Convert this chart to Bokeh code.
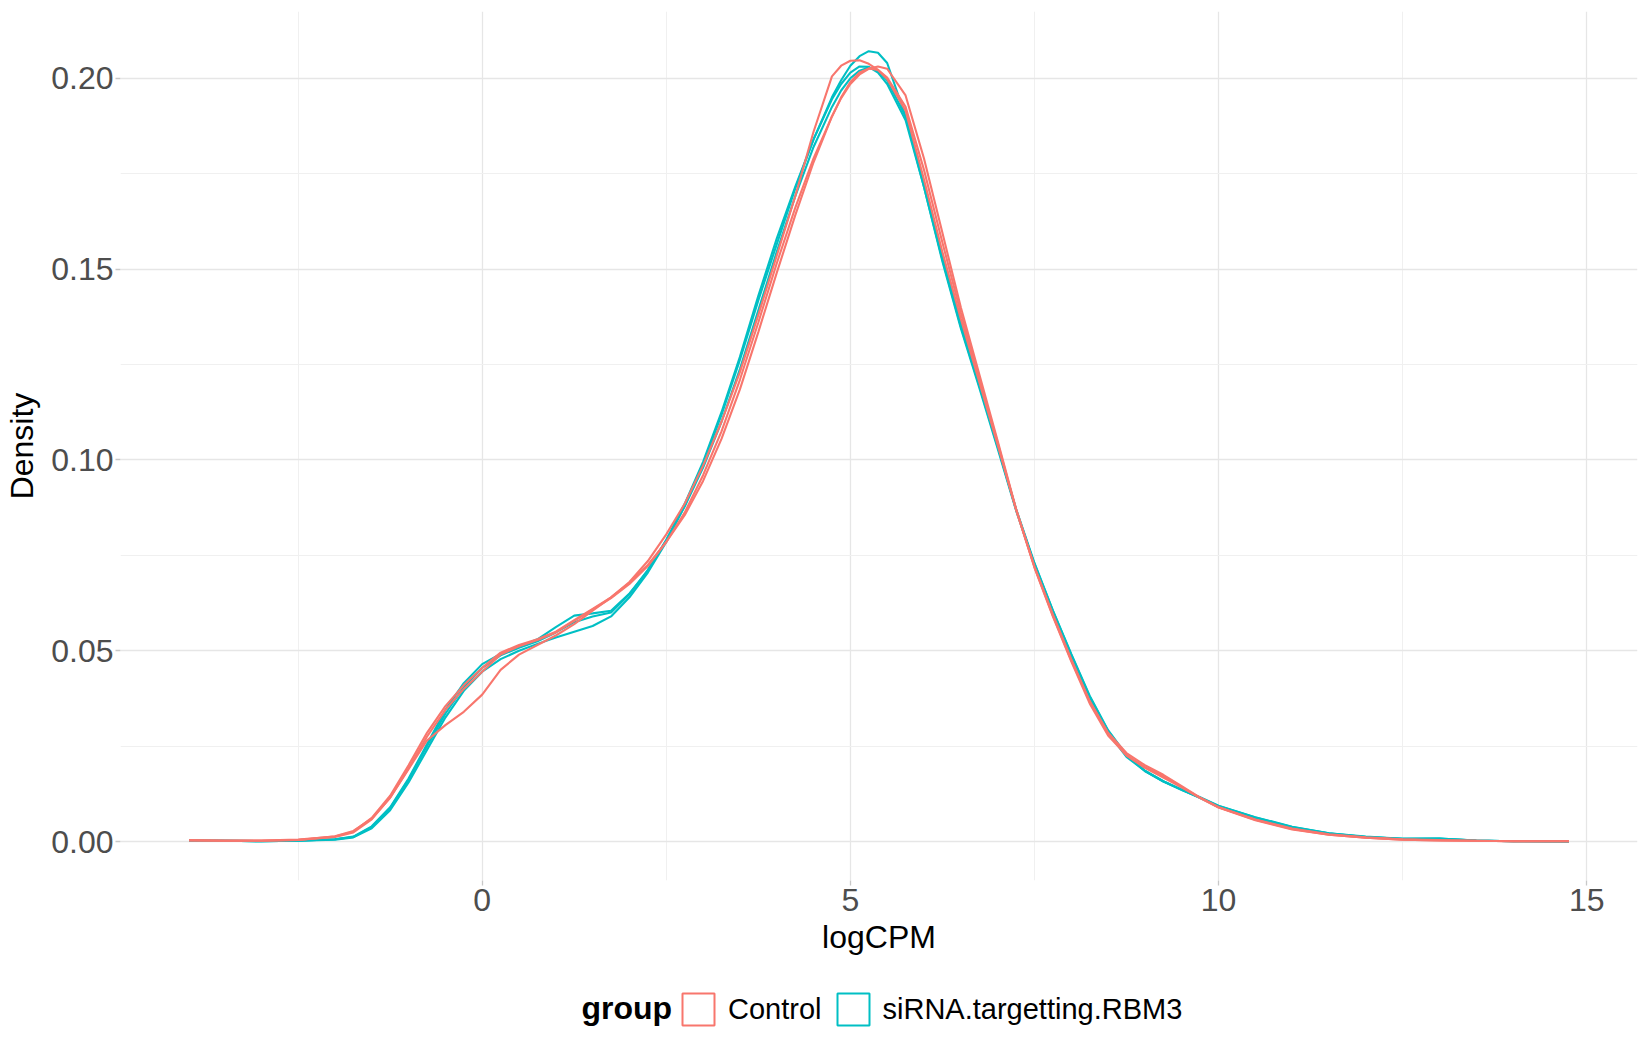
from bokeh.plotting import figure
from bokeh.layouts import column
from bokeh.models import Range1d, FixedTicker, Legend, LegendItem, NumeralTickFormatter, Label
from bokeh.embed import file_html
from bokeh.resources import INLINE


## logCPM grid shared by all density curves
logcpm = [-3.98, -3.5, -3.0, -2.5,
          -2.0, -1.75, -1.5, -1.25, -1.0, -0.75, -0.5, -0.25,
          0.0, 0.25, 0.5, 0.75, 1.0, 1.25, 1.5, 1.75, 2.0,
          2.25, 2.5, 2.75, 3.0, 3.25, 3.5, 3.75, 4.0, 4.25, 4.5, 4.75,
          4.875, 5.0, 5.125, 5.25, 5.375, 5.5,
          5.75, 6.0, 6.25, 6.5, 6.75, 7.0, 7.25, 7.5, 7.75, 8.0, 8.25, 8.5, 8.75,
          9.0, 9.25, 9.5, 9.75, 10.0,
          10.5, 11.0, 11.5, 12.0, 12.5, 13.0, 13.5, 14.0, 14.76]

## Control samples
control_a = [0.0004, 0.0003, 0.0003, 0.0005,
             0.0013, 0.0026, 0.0062, 0.0120, 0.0200, 0.0285, 0.0355, 0.0410,
             0.0455, 0.0495, 0.0515, 0.0530, 0.0550, 0.0580, 0.0610, 0.0640, 0.0680,
             0.0735, 0.0805, 0.0885, 0.0985, 0.1100, 0.1230, 0.1380, 0.1535, 0.1690, 0.1860, 0.2005,
             0.2033, 0.2046, 0.2047, 0.2038, 0.2022, 0.1998,
             0.1915, 0.1735, 0.1545, 0.1370, 0.1205, 0.1040, 0.0870, 0.0720, 0.0595, 0.0478, 0.0368, 0.0282, 0.0226,
             0.0193, 0.0168, 0.0142, 0.0115, 0.0090,
             0.0058, 0.0034, 0.0019, 0.0011, 0.0006, 0.0004, 0.0002, 0.0001, 0.0001]
control_b = [0.0003, 0.0002, 0.0002, 0.0004,
             0.0012, 0.0024, 0.0058, 0.0115, 0.0190, 0.0265, 0.0305, 0.0340,
             0.0385, 0.0450, 0.0490, 0.0515, 0.0540, 0.0570, 0.0605, 0.0640, 0.0678,
             0.0725, 0.0785, 0.0855, 0.0945, 0.1055, 0.1185, 0.1335, 0.1490, 0.1640, 0.1780, 0.1900,
             0.1950, 0.1990, 0.2015, 0.2026, 0.2022, 0.2002,
             0.1925, 0.1760, 0.1570, 0.1385, 0.1215, 0.1045, 0.0870, 0.0718, 0.0590, 0.0472, 0.0362, 0.0278, 0.0226,
             0.0195, 0.0172, 0.0143, 0.0114, 0.0089,
             0.0056, 0.0032, 0.0018, 0.0010, 0.0005, 0.0003, 0.0002, 0.0001, 0.0001]
control_c = [0.0003, 0.0002, 0.0002, 0.0004,
             0.0014, 0.0028, 0.0060, 0.0115, 0.0192, 0.0275, 0.0345, 0.0400,
             0.0445, 0.0490, 0.0512, 0.0528, 0.0548, 0.0578, 0.0608, 0.0638, 0.0675,
             0.0722, 0.0785, 0.0862, 0.0960, 0.1075, 0.1210, 0.1360, 0.1515, 0.1660, 0.1790, 0.1900,
             0.1948, 0.1985, 0.2010, 0.2025, 0.2031, 0.2025,
             0.1955, 0.1790, 0.1595, 0.1400, 0.1225, 0.1050, 0.0872, 0.0720, 0.0592, 0.0475, 0.0368, 0.0285, 0.0232,
             0.0200, 0.0175, 0.0145, 0.0115, 0.0090,
             0.0057, 0.0033, 0.0018, 0.0010, 0.0005, 0.0003, 0.0002, 0.0001, 0.0001]

## siRNA samples
sirna_a = [0.0003, 0.0002, 0.0001, 0.0002,
           0.0006, 0.0013, 0.0040, 0.0090, 0.0165, 0.0255, 0.0345, 0.0415,
           0.0465, 0.0492, 0.0510, 0.0530, 0.0562, 0.0592, 0.0598, 0.0605, 0.0650,
           0.0710, 0.0790, 0.0885, 0.0995, 0.1125, 0.1270, 0.1430, 0.1580, 0.1715, 0.1840, 0.1950,
           0.1995, 0.2033, 0.2058, 0.2071, 0.2067, 0.2040,
           0.1900, 0.1715, 0.1520, 0.1345, 0.1190, 0.1030, 0.0868, 0.0725, 0.0600, 0.0485, 0.0375, 0.0285, 0.0222,
           0.0185, 0.0158, 0.0136, 0.0114, 0.0092,
           0.0062, 0.0037, 0.0021, 0.0012, 0.0007, 0.0008, 0.0003, 0.0001, 0.0000]
sirna_b = [0.0003, 0.0002, 0.0001, 0.0002,
           0.0005, 0.0011, 0.0035, 0.0082, 0.0155, 0.0240, 0.0325, 0.0395,
           0.0445, 0.0478, 0.0500, 0.0518, 0.0535, 0.0550, 0.0565, 0.0590, 0.0640,
           0.0705, 0.0785, 0.0880, 0.0990, 0.1118, 0.1262, 0.1418, 0.1565, 0.1710, 0.1840, 0.1945,
           0.1985, 0.2015, 0.2031, 0.2030, 0.2015, 0.1985,
           0.1890, 0.1715, 0.1525, 0.1350, 0.1195, 0.1035, 0.0870, 0.0728, 0.0605, 0.0490, 0.0380, 0.0290, 0.0225,
           0.0185, 0.0157, 0.0135, 0.0115, 0.0093,
           0.0063, 0.0038, 0.0022, 0.0012, 0.0007, 0.0008, 0.0003, 0.0001, 0.0000]
sirna_c = [0.0003, 0.0002, 0.0001, 0.0002,
           0.0006, 0.0012, 0.0038, 0.0088, 0.0162, 0.0250, 0.0335, 0.0405,
           0.0455, 0.0488, 0.0508, 0.0525, 0.0548, 0.0575, 0.0590, 0.0600, 0.0648,
           0.0712, 0.0790, 0.0878, 0.0980, 0.1100, 0.1238, 0.1392, 0.1545, 0.1690, 0.1820, 0.1925,
           0.1968, 0.2000, 0.2020, 0.2028, 0.2020, 0.1995,
           0.1900, 0.1725, 0.1535, 0.1360, 0.1200, 0.1038, 0.0872, 0.0730, 0.0606, 0.0492, 0.0382, 0.0292, 0.0227,
           0.0186, 0.0158, 0.0136, 0.0116, 0.0094,
           0.0064, 0.0039, 0.0022, 0.0013, 0.0007, 0.0007, 0.0003, 0.0001, 0.0000]

groups = ["Control", "siRNA.targetting.RBM3"]
group_colors = {"Control": "#F8766D", "siRNA.targetting.RBM3": "#00BFC4"}
group_samples = {"Control": [control_a, control_b, control_c],
                 "siRNA.targetting.RBM3": [sirna_a, sirna_b, sirna_c]}

x_ticks = [0, 5, 10, 15]
x_minor = [-2.5, 2.5, 7.5, 12.5]
y_ticks = [0.0, 0.05, 0.10, 0.15, 0.20]
y_minor = [0.025, 0.075, 0.125, 0.175]

FONT = "Liberation Sans"
W = 1642
H_PLOT, H_LEGEND = 975, 67


p = figure(width=W, height=H_PLOT, output_backend="svg", toolbar_location=None,
           x_range=Range1d(-4.912, 15.69), y_range=Range1d(-0.0102, 0.2175),
           min_border_left=120, min_border_right=5, min_border_top=11, min_border_bottom=95)
p.outline_line_color = None
p.background_fill_color = "white"
p.border_fill_color = "white"

## teal first, red drawn on top
for group in reversed(groups):
    for dens in group_samples[group]:
        p.line(logcpm, dens, line_color=group_colors[group], line_width=2.1)

for ax, ticks, minor in [(p.xaxis[0], x_ticks, x_minor), (p.yaxis[0], y_ticks, y_minor)]:
    ax.ticker = FixedTicker(ticks=ticks, minor_ticks=minor)
    ax.axis_line_color = None
    ax.major_tick_line_color = "#C8C8C8"
    ax.major_tick_line_width = 1.3
    ax.major_tick_in = 0
    ax.major_tick_out = 5
    ax.minor_tick_line_color = None
    ax.major_label_text_font = FONT
    ax.major_label_text_font_size = "32px"
    ax.major_label_text_color = "#4D4D4D"
    ax.axis_label_text_font = FONT
    ax.axis_label_text_font_size = "32px"
    ax.axis_label_text_font_style = "normal"
    ax.axis_label_text_color = "black"

p.xaxis.axis_label = "logCPM"
p.yaxis.axis_label = "Density"
p.yaxis.formatter = NumeralTickFormatter(format="0.00")
p.xaxis.major_label_standoff = 3
p.yaxis.major_label_standoff = 2
p.xaxis.axis_label_standoff = 5
p.yaxis.axis_label_standoff = 8

for grid in (p.xgrid[0], p.ygrid[0]):
    grid.grid_line_color = "#E6E6E6"
    grid.grid_line_width = 1.3
    grid.minor_grid_line_color = "#F0F0F0"
    grid.minor_grid_line_width = 1

## legend strip under the plot (ggplot puts the legend at the bottom)
leg = figure(width=W, height=H_LEGEND, output_backend="svg", toolbar_location=None,
             x_range=p.x_range, y_range=p.y_range, x_axis_location=None, y_axis_location=None,
             min_border=0)
leg.outline_line_color = None
leg.grid.visible = False

## legend keys: outlined squares like ggplot's density keys (hidden bounding boxes)
keys = {}
for group in groups:
    top = max(max(d) for d in group_samples[group])
    keys[group] = leg.quad(left=[logcpm[0]], right=[logcpm[-1]], top=[top], bottom=[0],
                           fill_color=None, line_color=group_colors[group], line_width=2,
                           visible=False)

legend = Legend(items=[LegendItem(label=g, renderers=[keys[g]]) for g in groups],
                orientation="horizontal", location=(558, 13))
legend.label_text_font = FONT
legend.label_text_font_size = "29px"
legend.label_text_color = "black"
legend.label_standoff = 10
legend.glyph_width = 40
legend.glyph_height = 40
legend.spacing = 11
legend.padding = 4
legend.margin = 0
legend.border_line_color = None
legend.background_fill_alpha = 0
legend.inactive_fill_alpha = 0
leg.add_layout(legend)

leg.add_layout(Label(x=461, y=35, x_units="screen", y_units="screen", text="group",
                     text_font=FONT, text_font_size="32px", text_font_style="bold",
                     text_color="black", text_baseline="middle"))

open("out.html", "w").write(file_html(column(p, leg), INLINE))
